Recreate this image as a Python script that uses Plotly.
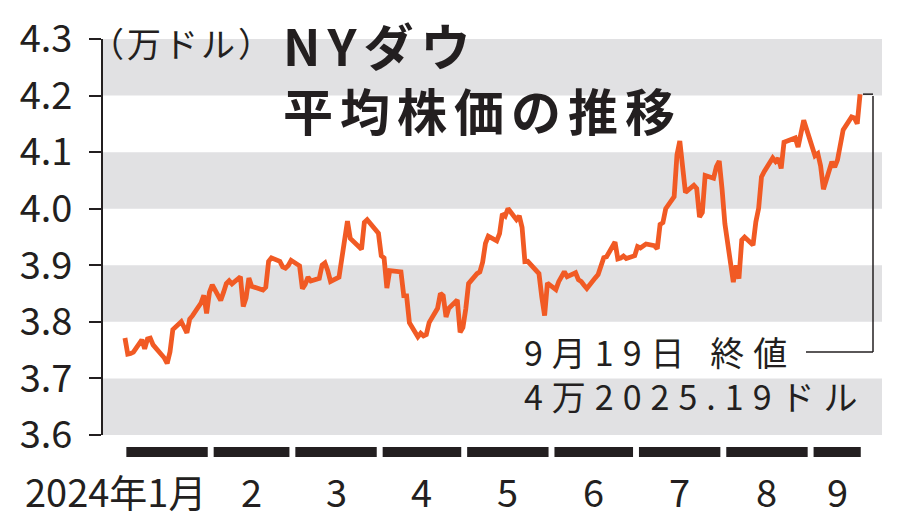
import plotly.graph_objects as go
import pandas as pd

# ---- data (NY Dow closes, USD) ----
days_jan = [2, 3, 4, 5, 8, 9, 10, 11, 12, 16, 17, 18, 19, 22, 23, 24, 25, 26, 29, 30, 31]
close_jan = [37715, 37430, 37440, 37466, 37683, 37525, 37696, 37711, 37593, 37361, 37267,
             37469, 37864, 38002, 37905, 37806, 38049, 38109, 38333, 38467, 38150]
days_feb = [1, 2, 5, 6, 7, 8, 9, 12, 13, 14, 15, 16, 20, 21, 22, 23, 26, 27, 28, 29]
close_feb = [38520, 38654, 38380, 38521, 38677, 38726, 38672, 38797, 38273, 38424, 38773,
             38628, 38564, 38612, 39069, 39132, 39069, 38972, 38949, 38996]
days_mar = [1, 4, 5, 6, 7, 8, 11, 12, 13, 14, 15, 18, 19, 20, 21, 22, 25, 26, 27, 28]
close_mar = [39087, 38990, 38585, 38661, 38791, 38723, 38770, 39005, 39043, 38906, 38715,
             38790, 39111, 39512, 39781, 39476, 39314, 39282, 39760, 39807]
days_apr = [1, 2, 3, 4, 5, 8, 9, 10, 11, 12, 15, 16, 17, 18, 19, 22, 23, 24, 25, 26, 29, 30]
close_apr = [39567, 39170, 39128, 38597, 38904, 38893, 38884, 38462, 38459, 37983, 37735,
             37799, 37753, 37775, 37986, 38240, 38504, 38461, 38086, 38240, 38386, 37816]
days_may = [1, 2, 3, 6, 7, 8, 9, 10, 13, 14, 15, 16, 17, 20, 21, 22, 23, 24, 28, 29, 30, 31]
close_may = [37903, 38226, 38676, 38852, 38884, 39056, 39388, 39513, 39432, 39558, 39908,
             39869, 40004, 39807, 39873, 39671, 39065, 39070, 38853, 38442, 38111, 38686]
days_jun = [3, 4, 5, 6, 7, 10, 11, 12, 13, 14, 17, 18, 20, 21, 24, 25, 26, 27, 28]
close_jun = [38571, 38711, 38807, 38886, 38799, 38868, 38747, 38712, 38647, 38589, 38778,
             38835, 39135, 39150, 39411, 39112, 39127, 39164, 39119]
days_jul = [1, 2, 3, 5, 8, 9, 10, 11, 12, 15, 16, 17, 18, 19, 22, 23, 24, 25, 26, 29, 30, 31]
close_jul = [39170, 39332, 39308, 39376, 39345, 39292, 39721, 39754, 40001, 40212, 40954,
             41198, 40665, 40288, 40415, 40358, 39854, 39935, 40589, 40540, 40743, 40843]
days_aug = [1, 2, 5, 6, 7, 8, 9, 12, 13, 14, 15, 16, 19, 20, 21, 22, 23, 26, 27, 28, 29, 30]
close_aug = [40348, 39737, 38703, 38998, 38763, 39446, 39498, 39357, 39766, 40008, 40563,
             40660, 40897, 40835, 40890, 40713, 41175, 41241, 41251, 41091, 41335, 41563]
days_sep = [3, 4, 5, 6, 9, 10, 11, 12, 13, 16, 17, 18, 19]
close_sep = [40937, 40975, 40756, 40345, 40830, 40737, 40862, 41097, 41394, 41622, 41606,
             41503, 42025.19]

month_nums = [1, 2, 3, 4, 5, 6, 7, 8, 9]
month_labels = ["2024年1月", "2", "3", "4", "5", "6", "7", "8", "9"]
y_ticks = [3.6, 3.7, 3.8, 3.9, 4.0, 4.1, 4.2, 4.3]
band_ranges = [(4.2, 4.3), (4.0, 4.1), (3.8, 3.9), (3.6, 3.7)]
title_lines = ["NYダウ", "平均株価の推移"]
unit_label = "（万ドル）"
note_lines = ["9月19日 終値", "4万2025.19ドル"]

all_days = [days_jan, days_feb, days_mar, days_apr, days_may, days_jun, days_jul, days_aug, days_sep]
all_close = [close_jan, close_feb, close_mar, close_apr, close_may, close_jun, close_jul, close_aug, close_sep]

dates, values = [], []
for m, ds, cs in zip(month_nums, all_days, all_close):
    for d, c in zip(ds, cs):
        dates.append(pd.Timestamp(2024, m, d))
        values.append(c / 10000.0)

INK = "#231f20"
JP = "Noto Sans CJK JP"
PAGE_OFF = 8  # default page body margin
PLOT_L, PLOT_T, PLOT_W, PLOT_H = 103, 39, 779, 396   # plot area in page pixels
FIG_W, FIG_H = 900 - PAGE_OFF, 527 - PAGE_OFF


def px_x(px):
    return (px - PLOT_L) / PLOT_W


def px_y(py):
    return (PLOT_T + PLOT_H - py) / PLOT_H


def spaced(text, sp):
    return '<span style="letter-spacing:%spx">%s</span>' % (sp, text)


fig = go.Figure()
fig.add_trace(go.Scatter(x=dates, y=values, mode="lines",
                         line=dict(color="#f15a24", width=4.8), hoverinfo="skip"))

shapes = []
for y0, y1 in band_ranges:
    shapes.append(dict(type="rect", xref="paper", yref="y", x0=0, x1=1, y0=y0, y1=y1,
                       fillcolor="#e1e1e3", line=dict(width=0), layer="below"))

annotations = []
for i, m in enumerate(month_nums):
    start = pd.Timestamp(2024, m, 1) + pd.Timedelta(days=1.5)
    if m < 9:
        end = pd.Timestamp(2024, m + 1, 1) - pd.Timedelta(days=0.6)
    else:
        end = dates[-1] + pd.Timedelta(hours=6)
    shapes.append(dict(type="rect", xref="x", yref="paper", x0=start, x1=end,
                       y0=px_y(457), y1=px_y(447), fillcolor=INK, line=dict(width=0)))
    mid = start + (end - start) / 2
    annotations.append(dict(x=end if i == 0 else mid, y=px_y(490), xref="x", yref="paper",
                            text=month_labels[i], showarrow=False,
                            xanchor="right" if i == 0 else "center", yanchor="middle",
                            font=dict(family=JP, size=38, color=INK)))

# leader line to last value
last_y = values[-1]
note_py = 352
shapes.append(dict(type="line", xref="paper", yref="y", x0=px_x(863), x1=px_x(873),
                   y0=last_y, y1=last_y, line=dict(color=INK, width=1.5)))
shapes.append(dict(type="line", xref="paper", yref="paper", x0=px_x(873), x1=px_x(873),
                   y0=px_y(96), y1=px_y(note_py), line=dict(color=INK, width=1.5)))
shapes.append(dict(type="line", xref="paper", yref="paper", x0=px_x(806), x1=px_x(873),
                   y0=px_y(note_py), y1=px_y(note_py), line=dict(color=INK, width=1.5)))

annotations += [
    dict(x=px_x(522), y=px_y(373), xref="paper", yref="paper",
         text="<br>".join(spaced(t, 9) for t in note_lines), showarrow=False,
         xanchor="left", yanchor="middle", align="left",
         font=dict(family=JP, size=34, color=INK)),
    dict(x=px_x(281), y=px_y(77), xref="paper", yref="paper",
         text="<br>".join(spaced(t, 7) for t in title_lines), showarrow=False,
         xanchor="left", yanchor="middle", align="left",
         font=dict(family=JP, size=50, color=INK, weight="bold")),
    dict(x=px_x(88), y=px_y(42), xref="paper", yref="paper", text=spaced(unit_label, 3),
         showarrow=False, xanchor="left", yanchor="middle",
         font=dict(family=JP, size=34, color=INK)),
]

fig.update_layout(
    width=FIG_W, height=FIG_H,
    margin=dict(l=PLOT_L - PAGE_OFF, r=FIG_W - (PLOT_L - PAGE_OFF) - PLOT_W,
                t=PLOT_T - PAGE_OFF, b=FIG_H - (PLOT_T - PAGE_OFF) - PLOT_H),
    paper_bgcolor="white", plot_bgcolor="white",
    showlegend=False,
    shapes=shapes, annotations=annotations,
    xaxis=dict(type="date", range=["2023-12-25 05:00", "2024-09-26 19:00"], automargin=False,
               showticklabels=False, showgrid=False, zeroline=False, showline=False, ticks=""),
    yaxis=dict(range=[3.6, 4.3], tickvals=y_ticks, tickformat=".1f", ticks="outside",
               automargin=False,
               ticklen=12, tickwidth=2, tickcolor=INK, showline=True, linewidth=2, linecolor=INK,
               showgrid=False, zeroline=False, ticklabelstandoff=9,
               tickfont=dict(family=JP, size=38, color=INK)),
)

fig.write_html("out.html")
